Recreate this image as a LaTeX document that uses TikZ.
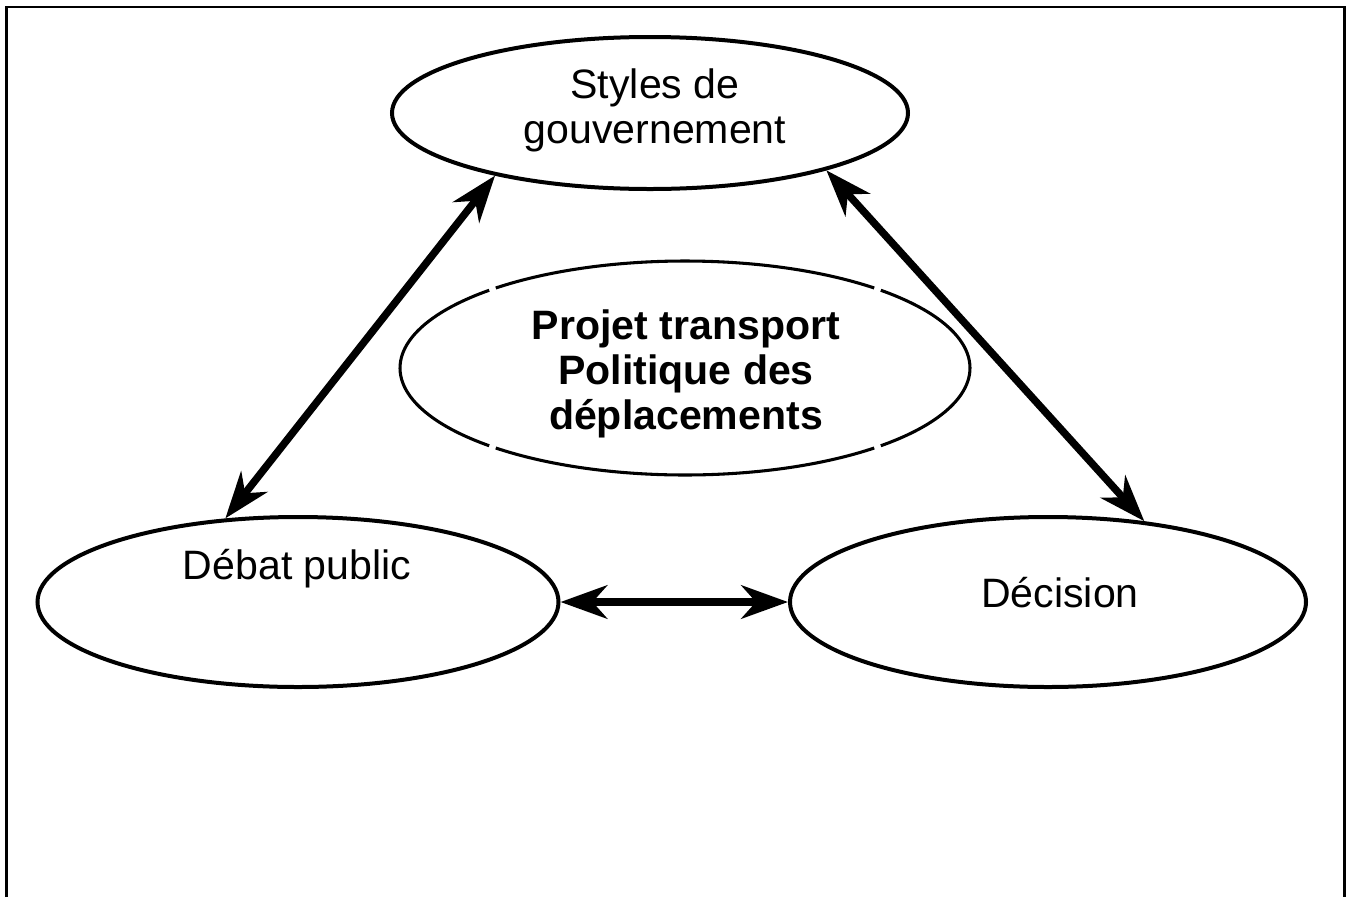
\documentclass[tikz,border=0pt]{standalone}
\usepackage{fontspec}
\setmainfont{Liberation Sans}
\usetikzlibrary{shapes.geometric,arrows.meta,calc}

\tikzset{
  frameline/.style={line width=2pt},
  bubble/.style={ellipse, draw, line width=3pt, inner sep=0pt},
  hollow/.style={ellipse, inner sep=0pt},
  rimline/.style={line width=2.3pt},
  caption/.style={font=\fontsize{30.8pt}{33.8pt}\selectfont, align=center, inner sep=0pt},
  boldcaption/.style={caption, font=\fontsize{30.8pt}{33.8pt}\selectfont\bfseries},
  link/.style={line width=5.6pt,
    {Stealth[length=35pt, width=25pt, inset=11pt]}-{Stealth[length=35pt, width=25pt, inset=11pt]}},
}

\begin{document}
\begin{tikzpicture}[x=0.75pt, y=0.75pt]
  \useasboundingbox (0,0) rectangle (1346,-897);

  % open frame running off the lower edge
  \draw[frameline] (6.5,-897) -- (6.5,-7) -- (1344.5,-7) -- (1344.5,-897);

  % the four ellipses
  \node[bubble, minimum width={516*0.75pt}, minimum height={152*0.75pt}] (gov) at (650,-113) {};
  \node[hollow, minimum width={570*0.75pt}, minimum height={214*0.75pt}] (core) at (685,-368) {};
  \node[bubble, minimum width={521*0.75pt}, minimum height={170*0.75pt}] (debat) at (298,-602) {};
  \node[bubble, minimum width={516*0.75pt}, minimum height={170*0.75pt}] (deci) at (1048,-602) {};

  % outline of the central ellipse, drawn in four arcs
  \foreach \a/\b in {48.4/131.6, 133.4/226.6, 228.4/311.6, 313.4/406.6}
    \draw[rimline] ([shift={(\a:285 and 107)}]core.center)
      arc[start angle=\a, end angle=\b, x radius=285, y radius=107];

  % labels
  \node[caption] (govtext) at (655,-110) {Styles de\\gouvernement};
  \node[boldcaption] (coretext) at (686,-374) {Projet transport\\Politique des\\déplacements};
  \node[caption, anchor=base] (debattext) at (297,-579) {Débat public};
  \node[caption, anchor=base] (decitext) at (1060,-607) {Décision};

  % two-way links
  \draw[link] (gov.202.4) -- (debat.131.2);
  \draw[link] (gov.342.4) -- (deci.40.8);
  \draw[link] (debat.east) -- (deci.west);
\end{tikzpicture}
\end{document}
